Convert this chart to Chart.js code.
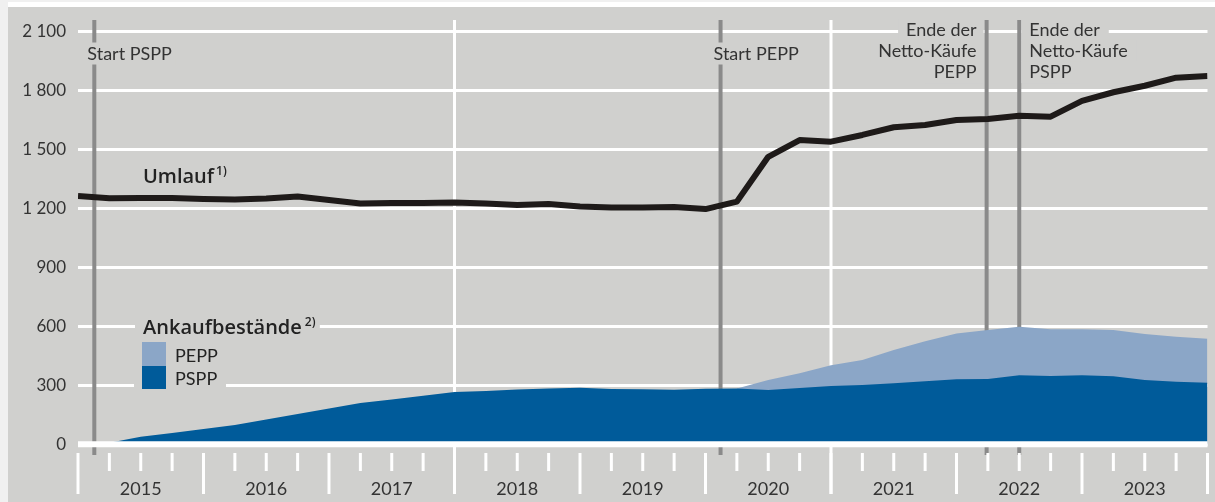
<!DOCTYPE html>
<html lang="de">
<head>
<meta charset="utf-8">
<script src="https://cdn.jsdelivr.net/npm/chart.js@4"></script>
<style>
  html, body { margin: 0; padding: 0; background: #f0f0f0; }
  #wrap { position: relative; width: 1215px; height: 502px; }
</style>
</head>
<body>
<div id="wrap"><canvas id="grafik" width="1215" height="502"></canvas></div>
<script>
// Quartalsenden (Jahr als Dezimalzahl), Ende 2014 bis Ende 2023
const stichtage = [
    2015, 2015.25, 2015.5, 2015.75,
    2016, 2016.25, 2016.5, 2016.75,
    2017, 2017.25, 2017.5, 2017.75,
    2018, 2018.25, 2018.5, 2018.75,
    2019, 2019.25, 2019.5, 2019.75,
    2020, 2020.25, 2020.5, 2020.75,
    2021, 2021.25, 2021.5, 2021.75,
    2022, 2022.25, 2022.5, 2022.75,
    2023, 2023.25, 2023.5, 2023.75,
    2024
];

// Mrd Euro
const umlauf = [
    1263, 1251, 1252, 1252,
    1247, 1245, 1250, 1260,
    1242, 1224, 1227, 1227,
    1230, 1224, 1217, 1222,
    1209, 1204, 1204, 1207,
    1196, 1234, 1462, 1547,
    1539, 1573, 1612, 1624,
    1649, 1654, 1671, 1666,
    1746, 1790, 1823, 1864,
    1873
];

const pspp = [
    null, 8, 38, 58,
    78, 98, 126, 154,
    182, 210, 228, 247,
    266, 271, 279, 284,
    288, 281, 280, 278,
    282, 284, 276, 286,
    296, 302, 311, 321,
    331, 332, 351, 347,
    351, 346, 327, 318,
    313
];

const pepp = [
    null, null, null, null,
    null, null, null, null,
    null, null, null, null,
    null, null, null, null,
    null, null, null, null,
    null, 0, 51, 75,
    106, 127, 169, 203,
    233, 249, 247, 238,
    234, 235, 234, 229,
    224
];

const jahre = [2015, 2016, 2017, 2018, 2019, 2020, 2021, 2022, 2023];
const yTicks = [0, 300, 600, 900, 1200, 1500, 1800, 2100];

const ereignisse = [
    { datum: 2015.13, text: ['Start PSPP'], art: 'start' },
    { datum: 2020.12, text: ['Start PEPP'], art: 'start' },
    { datum: 2022.24, text: ['Ende der', 'Netto-Käufe', 'PEPP'], art: 'links' },
    { datum: 2022.5, text: ['Ende der', 'Netto-Käufe', 'PSPP'], art: 'rechts' }
];

const panel = '#d0d0ce';
const farbePSPP = '#005b9a';
const farbePEPP = '#8ba6c7';
const schrift = 'Lato, "Open Sans", sans-serif';

// PEPP wird auf PSPP gestapelt gezeichnet
const summe = pepp.map((v, i) => v === null ? null : v + pspp[i]);

function punkte(werte) {
    return stichtage.map((x, i) => ({ x: x, y: werte[i] }));
}

function linie(c, x1, y1, x2, y2) {
    c.beginPath();
    c.moveTo(x1, y1);
    c.lineTo(x2, y2);
    c.stroke();
}

function textMitHintergrund(c, s, x, y, align, links, rechts) {
    c.textAlign = align;
    const w = c.measureText(s).width;
    const l = align === 'right' ? x - w : x;
    c.fillStyle = panel;
    c.fillRect(l - links, y - 17, w + links + rechts, 22);
    c.fillStyle = '#333';
    c.fillText(s, x, y);
}

const deko = {
    id: 'deko',
    beforeDraw(chart) {
        const c = chart.ctx;
        c.save();
        c.fillStyle = '#f0f0f0';
        c.fillRect(0, 0, chart.width, chart.height);
        c.fillStyle = '#ffffff';
        c.fillRect(8, 2, chart.width - 8, 5);
        c.fillStyle = panel;
        c.fillRect(8, 7, chart.width - 8, chart.height - 7);
        c.restore();
    },
    beforeDatasetsDraw(chart) {
        const c = chart.ctx;
        const x = chart.scales.x;
        c.save();
        // senkrechte Gitterlinien
        c.strokeStyle = '#ffffff';
        c.lineWidth = 3;
        [2018, 2021].forEach(j => {
            const px = x.getPixelForValue(j);
            linie(c, px, 20, px, 494);
        });
        // Ereignislinien
        c.strokeStyle = '#8a8a8a';
        c.lineWidth = 4;
        ereignisse.forEach(e => {
            const px = x.getPixelForValue(e.datum);
            linie(c, px, 20, px, 455);
        });
        c.restore();
    },
    afterDatasetsDraw(chart) {
        const c = chart.ctx;
        const x = chart.scales.x;
        const y = chart.scales.y;
        const a = chart.chartArea;
        c.save();

        // Nulllinie
        c.strokeStyle = '#ffffff';
        c.lineWidth = 6;
        const y0 = y.getPixelForValue(0);
        linie(c, a.left, y0, a.right, y0);

        // Achsenstriche
        c.lineWidth = 3;
        for (let q = 2015; q <= 2024.001; q += 0.25) {
            const px = x.getPixelForValue(q);
            const gross = Math.abs(q - Math.round(q)) < 0.01;
            linie(c, px, 453, px, gross ? 494 : 471);
        }

        // Jahreszahlen
        c.font = '18px ' + schrift;
        c.fillStyle = '#333';
        c.textAlign = 'center';
        c.textBaseline = 'alphabetic';
        jahre.forEach(j => {
            c.fillText(String(j), x.getPixelForValue(j + 0.5), 495);
        });

        // Ereignistexte
        c.font = '18px ' + schrift;
        ereignisse.forEach(e => {
            const px = x.getPixelForValue(e.datum);
            if (e.art === 'start') {
                textMitHintergrund(c, e.text[0], px - 7, 59.5, 'left', 4, 4);
            } else if (e.art === 'links') {
                e.text.forEach((t, i) => textMitHintergrund(c, t, px - 10, 35.5 + i * 21.3, 'right', 8, 7));
            } else {
                e.text.forEach((t, i) => textMitHintergrund(c, t, px + 10, 35.5 + i * 21.3, 'left', 8, 9));
            }
        });

        // Umlauf-Beschriftung
        c.fillStyle = '#222';
        c.textAlign = 'left';
        c.font = '600 20px "Open Sans", sans-serif';
        c.fillText('Umlauf', 143, 183);
        let w = c.measureText('Umlauf').width;
        c.font = '600 12px "Open Sans", sans-serif';
        c.fillText('1)', 143 + w + 2, 175);

        // Legende
        c.font = '600 20px "Open Sans", sans-serif';
        w = c.measureText('Ankaufbestände').width;
        c.fillStyle = panel;
        c.fillRect(135, 316, w + 26, 24);
        c.fillRect(134, 378, 92, 12);
        c.fillStyle = '#222';
        c.fillText('Ankaufbestände', 143, 334);
        c.font = '600 12px "Open Sans", sans-serif';
        c.fillText('2)', 143 + w + 3, 326);

        c.fillStyle = farbePEPP;
        c.fillRect(142, 342, 24, 24);
        c.fillStyle = farbePSPP;
        c.fillRect(142, 366, 24, 23);
        c.fillStyle = '#222';
        c.font = '18px ' + schrift;
        c.fillText('PEPP', 175, 361.5);
        c.fillText('PSPP', 175, 385);

        c.restore();
    }
};

new Chart(document.getElementById('grafik'), {
    type: 'line',
    data: {
        datasets: [
            {
                label: 'Umlauf',
                data: punkte(umlauf),
                borderColor: '#1e1a19',
                borderWidth: 6,
                borderJoinStyle: 'round',
                pointRadius: 0,
                fill: false,
                tension: 0
            },
            {
                label: 'PSPP',
                data: punkte(pspp),
                borderColor: 'rgba(0,0,0,0)',
                borderWidth: 0,
                backgroundColor: farbePSPP,
                pointRadius: 0,
                fill: 'origin',
                tension: 0
            },
            {
                label: 'PEPP',
                data: punkte(summe),
                borderColor: 'rgba(0,0,0,0)',
                borderWidth: 0,
                backgroundColor: farbePEPP,
                pointRadius: 0,
                fill: 'origin',
                tension: 0
            }
        ]
    },
    options: {
        responsive: false,
        animation: false,
        events: [],
        layout: { padding: { left: 0, right: 7.5, top: 31.3, bottom: 57.7 } },
        plugins: {
            legend: { display: false },
            tooltip: { enabled: false }
        },
        scales: {
            x: { type: 'linear', min: 2015, max: 2024, display: false },
            y: {
                min: 0,
                max: 2100,
                afterBuildTicks: s => { s.ticks = yTicks.map(v => ({ value: v })); },
                afterFit: s => { s.width = 78; },
                ticks: {
                    padding: 12,
                    color: '#333',
                    font: { family: 'Lato', size: 17 },
                    callback: v => String(v).replace(/\B(?=(\d{3})+(?!\d))/g, ' ')
                },
                grid: { color: '#ffffff', lineWidth: 3, drawTicks: false },
                border: { display: false }
            }
        }
    },
    plugins: [deko]
});
</script>
</body>
</html>
